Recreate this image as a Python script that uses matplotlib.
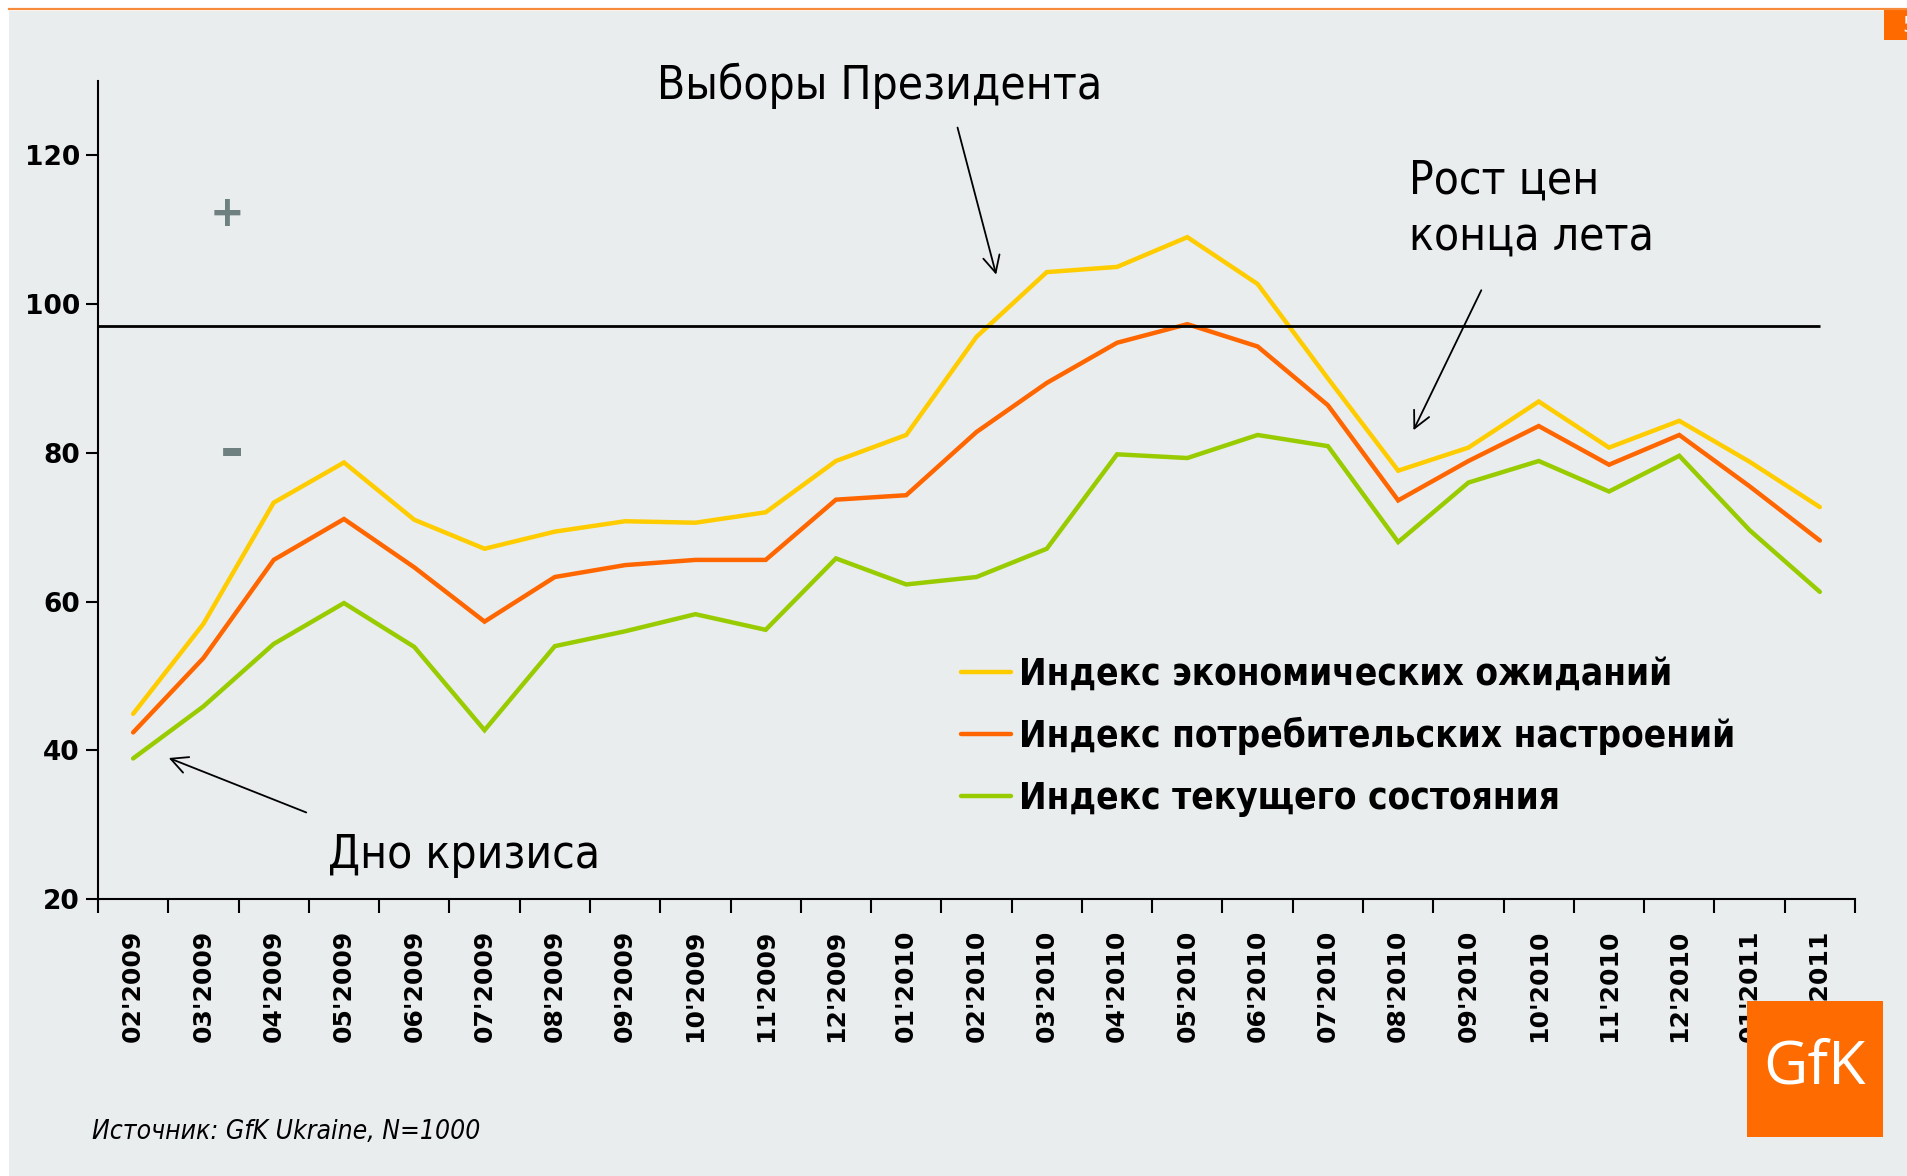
import numpy as np
import matplotlib.pyplot as plt
from matplotlib.patches import Rectangle

# Données (indices GfK Ukraine)
months = ["02'2009", "03'2009", "04'2009", "05'2009", "06'2009", "07'2009",
          "08'2009", "09'2009", "10'2009", "11'2009", "12'2009", "01'2010",
          "02'2010", "03'2010", "04'2010", "05'2010", "06'2010", "07'2010",
          "08'2010", "09'2010", "10'2010", "11'2010", "12'2010", "01'2011",
          "02'2011"]
expectations = [44.9, 57.0, 73.3, 78.7, 71.0, 67.1, 69.4, 70.8, 70.6, 72.0,
                78.9, 82.4, 95.6, 104.3, 105.0, 109.0, 102.7, 90.0, 77.6, 80.7,
                86.9, 80.7, 84.3, 78.8, 72.7]
sentiment = [42.4, 52.4, 65.6, 71.1, 64.6, 57.3, 63.3, 64.9, 65.6, 65.6,
             73.7, 74.3, 82.8, 89.4, 94.8, 97.3, 94.3, 86.4, 73.6, 78.9,
             83.6, 78.4, 82.4, 75.5, 68.2]
current = [38.9, 45.9, 54.3, 59.8, 53.9, 42.7, 54.0, 56.0, 58.3, 56.2,
           65.8, 62.3, 63.3, 67.1, 79.8, 79.3, 82.4, 80.9, 68.0, 76.0,
           78.9, 74.8, 79.6, 69.6, 61.3]
series_names = ["Индекс экономических ожиданий",
                "Индекс потребительских настроений",
                "Индекс текущего состояния"]
base_level = 97

bg = "#e9edee"
colors = ["#ffcc00", "#ff6600", "#99cc00"]

fig = plt.figure(figsize=(19.08, 11.76), dpi=100)
fig.patch.set_facecolor("white")

# fond gris + filet orange du haut
fig.patches.append(Rectangle((9 / 1908, 0), 1, 1 - 11 / 1176, transform=fig.transFigure,
                             facecolor=bg, edgecolor="none", zorder=-5))
fig.add_artist(plt.Line2D([9 / 1908, 1], [1 - 9 / 1176, 1 - 9 / 1176], transform=fig.transFigure,
                          color="#f68b3c", lw=1.6))
fig.patches.append(Rectangle((1884 / 1908, 1 - 40 / 1176), 30 / 1908, 30 / 1176,
                             transform=fig.transFigure, facecolor="#ff6a00", edgecolor="none"))
fig.text(1902 / 1908, 1 - 26 / 1176, "5", color="white", fontsize=16, ha="left", va="center")

ax = fig.add_axes([98 / 1908, 1 - 899 / 1176, (1855 - 98) / 1908, (899 - 81) / 1176])
ax.set_facecolor("none")

x = np.arange(len(months))
for vals, name, c in zip([expectations, sentiment, current], series_names, colors):
    ax.plot(x, vals, color=c, lw=3.2, label=name, solid_capstyle="round", solid_joinstyle="miter")

ax.hlines(base_level, -0.5, len(months) - 1, color="black", lw=2)

ax.set_xlim(-0.5, len(months) - 0.5)
ax.set_ylim(20, 130)
ax.set_yticks(np.arange(20, 121, 20))
ax.set_xticks(x)
ax.set_xticklabels(months, rotation=90, fontsize=18, fontweight="bold")
ax.set_xticks(np.arange(-0.5, len(months), 1), minor=True)
ax.tick_params(axis="x", which="major", length=0, pad=22)
ax.tick_params(axis="x", which="minor", length=10, width=1.5, direction="out")
ax.tick_params(axis="y", length=9, width=1.5, pad=4, labelsize=19)
for lab in ax.get_yticklabels():
    lab.set_fontweight("bold")
for s in ["top", "right"]:
    ax.spines[s].set_visible(False)
for s in ["left", "bottom"]:
    ax.spines[s].set_linewidth(1.5)

# Annotations
ann = dict(fontsize=33, fontstretch="condensed", color="black")
arr = dict(arrowstyle="->", color="black", lw=1.3, mutation_scale=30)
ax.text(7.45, 129.3, "Выборы Президента", va="center", ha="left", clip_on=False, **ann)
ax.annotate("", xy=(12.29, 103.6), xytext=(11.72, 124.1), arrowprops=arr)
ax.text(18.15, 112.8, "Рост цен\nконца лета", va="center", ha="left", linespacing=1.3, **ann)
ax.annotate("", xy=(18.2, 82.7), xytext=(19.2, 102.2), arrowprops=arr)
ax.text(2.77, 25.8, "Дно кризиса", va="center", ha="left", **ann)
ax.annotate("", xy=(0.47, 39.1), xytext=(2.5, 31.5), arrowprops=arr)

ax.text(1.34, 112.1, "+", fontsize=30, fontweight="bold", color="#6f8081", ha="center", va="center")
ax.text(1.4, 80.0, "-", fontsize=42, fontweight="bold", color="#6f8081", ha="center", va="center")

leg = ax.legend(loc="upper left", bbox_to_anchor=(946 / 1908, 1 - 641 / 1176),
                bbox_transform=fig.transFigure, frameon=False, handlelength=1.36,
                handletextpad=0.23, labelspacing=0.66, borderaxespad=0,
                prop=dict(size=26.5, weight="bold", stretch="condensed"))

fig.text(92 / 1908, 1 - 1132 / 1176, "Источник: GfK Ukraine, N=1000", fontsize=19,
         style="italic", fontstretch="condensed", va="center", ha="left")

# logo GfK
fig.patches.append(Rectangle((1747 / 1908, 1 - 1137 / 1176), 136 / 1908, 136 / 1176,
                             transform=fig.transFigure, facecolor="#fd6b01", edgecolor="none", zorder=10))
fig.text(1815 / 1908, 1 - 1068 / 1176, "GfK", color="white", fontsize=44, family="Open Sans",
         ha="center", va="center", zorder=11)

fig.savefig("out.png", dpi=100, facecolor=fig.get_facecolor())
